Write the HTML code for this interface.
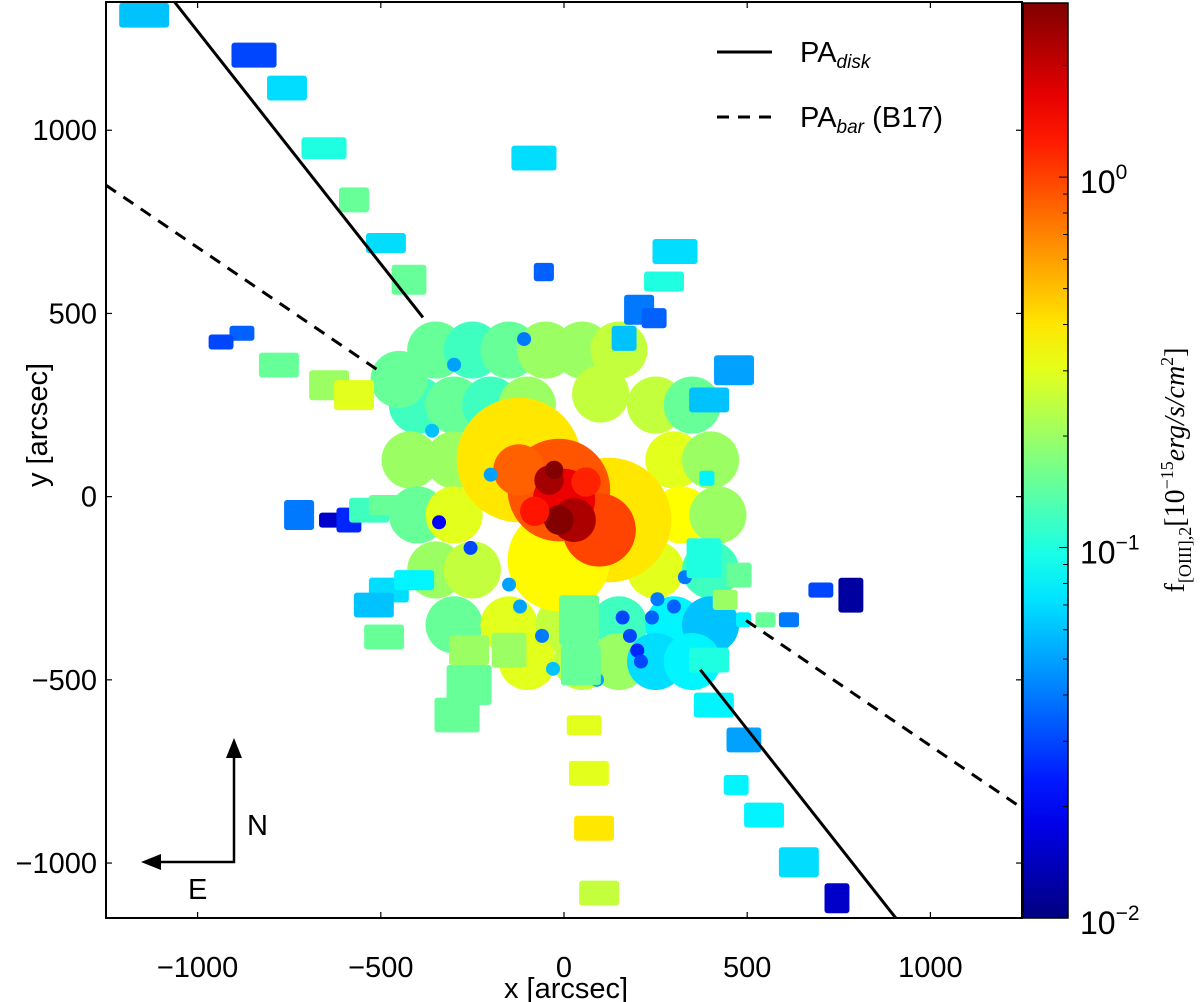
<!DOCTYPE html>
<html><head><meta charset="utf-8">
<style>
html,body{margin:0;padding:0;background:#fff;}
svg{display:block;font-family:"Liberation Sans",sans-serif;}
</style></head>
<body>
<svg id="chart" width="1200" height="1002" viewBox="0 0 1200 1002" xmlns="http://www.w3.org/2000/svg">
<defs>
<clipPath id="plotclip"><rect x="106" y="2" width="916" height="916"/></clipPath>
<linearGradient id="jetgrad" x1="0" y1="1" x2="0" y2="0"></linearGradient>
</defs>
<g id="marks" clip-path="url(#plotclip)"></g>
<g id="axes"></g>
</svg>
<script>
// ---- data ----
// outer cloud fill blobs
const fillX = [-350,-250,-150,-50,50,150,-400,-300,-200,250,350,-420,-300,300,400,-400,-300,320,420,-350,-250,250,400,-300,-150,0,150,300,400,-100,50,150,250,350,-450,-100,100];
const fillY = [400,400,400,400,400,400,250,250,250,250,250,100,100,100,100,-50,-50,-50,-50,-200,-200,-200,-200,-350,-350,-350,-350,-350,-350,-450,-450,-450,-450,-450,320,250,280];
const fillV = [0.15,0.12,0.15,0.2,0.2,0.25,0.12,0.15,0.12,0.25,0.15,0.2,0.2,0.3,0.2,0.15,0.3,0.35,0.2,0.2,0.25,0.3,0.12,0.15,0.3,0.25,0.12,0.08,0.06,0.3,0.25,0.2,0.07,0.08,0.15,0.2,0.25];
// core cloud blobs (arcsec, radius arcsec, flux)
const blobX = [-123,123,-14,-14,96,-123,0,27,-41,-14,-27,60,-80];
const blobY = [100,-64,-173,18,-91,73,-9,-64,45,-64,73,40,-40];
const blobR = [170,170,140,140,100,70,85,60,40,40,25,40,40];
const blobV = [0.4,0.4,0.36,0.9,1.0,0.85,1.6,2.3,2.4,2.9,2.9,1.2,1.3];
// small dots inside the cloud
const dotX = [-109,-300,-341,-255,25,160,200,255,300,-150,-30,90,-360,-200,210,330,-120,-60,180,240];
const dotY = [430,360,-70,-140,-350,-330,-420,-280,-300,-240,-470,-500,180,60,-450,-220,-300,-380,-380,-330];
const dotV = [0.04,0.05,0.02,0.03,0.03,0.03,0.025,0.04,0.035,0.05,0.06,0.05,0.06,0.05,0.03,0.04,0.05,0.04,0.03,0.035];
// rectangular fields (center x,y; width,height in arcsec; flux)
const boxX = [-1146,-846,-756,-655,-573,-486,-423,-82,-55,303,273,205,246,164,464,396,390,-879,-936,-778,-641,-573,-723,-641,-587,-532,-478,-478,-409,-519,-491,-292,-259,-259,-150,41,46,55,68,82,96,382,478,440,490,550,614,701,783,396,409,491,470,546,641,745];
const boxY = [1314,1205,1115,951,810,692,592,924,613,669,587,510,487,432,345,264,50,446,422,359,304,277,-50,-64,-64,-37,-23,-255,-228,-296,-383,-596,-514,-419,-419,-337,-460,-624,-755,-905,-1082,-168,-214,-282,-336,-336,-336,-255,-269,-446,-569,-664,-787,-869,-998,-1096];
const boxW = [136,123,109,123,82,109,95,123,55,123,109,82,68,68,109,109,41,68,68,109,109,109,82,55,68,109,109,109,109,109,109,123,123,109,95,109,109,95,109,109,109,95,68,68,41,55,55,68,68,109,109,95,68,109,109,68];
const boxH = [68,68,68,60,68,55,82,68,50,68,55,82,55,68,82,68,41,41,41,68,82,82,82,41,68,68,55,68,55,68,68,95,109,82,95,136,109,55,68,68,68,109,68,55,41,41,41,41,95,68,68,68,55,68,82,82];
const boxV = [0.06,0.03,0.07,0.1,0.15,0.07,0.15,0.07,0.035,0.07,0.1,0.04,0.035,0.06,0.05,0.06,0.08,0.035,0.03,0.15,0.2,0.3,0.04,0.015,0.025,0.12,0.15,0.07,0.08,0.06,0.15,0.15,0.15,0.2,0.2,0.15,0.15,0.3,0.3,0.4,0.25,0.1,0.15,0.2,0.08,0.15,0.04,0.03,0.012,0.1,0.08,0.05,0.08,0.08,0.07,0.015];
const xTicks = [-1000,-500,0,500,1000];
const yTicks = [1000,500,0,-500,-1000];
const cbDecades = [-2,-1,0];
const paDiskSlope = -1.27;
const paBarSlope = -0.68;

// ---- scales ----
const X0=106,X1=1022,Y0=918,Y1=2;
const xs = x => X0 + (x+1250)/2500*(X1-X0);
const ys = y => Y0 - (y+1150)/2500*(Y0-Y1);
const LMIN=-2, LMAX=0.47;
const cbY = l => 918 - (l-LMIN)/(LMAX-LMIN)*(918-3);
function jet(v){
  let t=(Math.log10(v)-LMIN)/(LMAX-LMIN); t=Math.max(0,Math.min(1,t));
  const c=a=>Math.round(255*Math.max(0,Math.min(1,a)));
  return `rgb(${c(1.5-Math.abs(4*t-3))},${c(1.5-Math.abs(4*t-2))},${c(1.5-Math.abs(4*t-1))})`;
}
const NS="http://www.w3.org/2000/svg";
function mk(tag,attrs,parent){const e=document.createElementNS(NS,tag);for(const k in attrs)e.setAttribute(k,attrs[k]);parent.appendChild(e);return e;}
const marks=document.getElementById('marks'), axes=document.getElementById('axes');
const kx=(X1-X0)/2500;

for(let i=0;i<fillX.length;i++){
  const e=mk('circle',{cx:xs(fillX[i]),cy:ys(fillY[i]),r:78*kx,fill:jet(fillV[i])},marks);
  
  
}
for(let i=0;i<blobX.length;i++){
  const e=mk('circle',{cx:xs(blobX[i]),cy:ys(blobY[i]),r:blobR[i]*kx,fill:jet(blobV[i])},marks);
  
  
}
for(let i=0;i<dotX.length;i++){
  const e=mk('circle',{cx:xs(dotX[i]),cy:ys(dotY[i]),r:7,fill:jet(dotV[i])},marks);
  
  
}
for(let i=0;i<boxX.length;i++){
  const w=boxW[i]*kx,h=boxH[i]*kx;
  const e=mk('rect',{x:xs(boxX[i])-w/2,y:ys(boxY[i])-h/2,width:w,height:h,rx:3,fill:jet(boxV[i])},marks);
  
  
}
function seg(x1,x2,slope,dash,name){
  const e=mk('line',{x1:xs(x1),y1:ys(slope*x1),x2:xs(x2),y2:ys(slope*x2),stroke:'#000','stroke-width':3},marks);
  if(dash)e.setAttribute('stroke-dasharray','12 9');
  
  
}
seg(-1063,-385,paDiskSlope,false,'pa-disk-line-north');
seg(372,906,paDiskSlope,false,'pa-disk-line-south');
seg(-1250,-500,paBarSlope,true,'pa-bar-line-east');
seg(497,1250,paBarSlope,true,'pa-bar-line-west');

let e=mk('rect',{x:X0,y:Y1,width:X1-X0,height:Y0-Y1,fill:'none',stroke:'#000','stroke-width':2},axes);

xTicks.forEach(t=>{
  mk('line',{x1:xs(t),y1:Y0,x2:xs(t),y2:Y0-6,stroke:'#000','stroke-width':1.2},axes);
  mk('line',{x1:xs(t),y1:Y1,x2:xs(t),y2:Y1+6,stroke:'#000','stroke-width':1.2},axes);
  const tx=mk('text',{x:xs(t),y:977,'text-anchor':'middle','font-size':29},axes);
  tx.textContent=(t<0?'\u2212':'')+Math.abs(t);
  
  
});
yTicks.forEach(t=>{
  mk('line',{x1:X0,y1:ys(t),x2:X0+6,y2:ys(t),stroke:'#000','stroke-width':1.2},axes);
  mk('line',{x1:X1,y1:ys(t),x2:X1-6,y2:ys(t),stroke:'#000','stroke-width':1.2},axes);
  const tx=mk('text',{x:97,y:ys(t)+10,'text-anchor':'end','font-size':29},axes);
  tx.textContent=(t<0?'\u2212':'')+Math.abs(t);
  
  
});
const g=document.getElementById('jetgrad');
for(let i=0;i<=20;i++){const v=Math.pow(10,LMIN+i/20*(LMAX-LMIN));mk('stop',{offset:(i/20),'stop-color':jet(v)},g);}
e=mk('rect',{x:1023,y:3,width:45,height:915,fill:'url(#jetgrad)',stroke:'#000','stroke-width':1.5},axes);

cbDecades.forEach(d=>{
  for(let m=1;m<10;m++){
    const l=d+Math.log10(m); if(l>LMAX)break;
    mk('line',{x1:1068,y1:cbY(l),x2:1068-(m===1?9:5),y2:cbY(l),stroke:'#000','stroke-width':1},axes);
  }
  const tx=mk('text',{x:1080,y:cbY(d)+16,'font-size':32},axes);
  
  
  tx.innerHTML='10<tspan dy="-14" font-size="21">'+(d<0?'\u2212':'')+Math.abs(d)+'</tspan>';
});
</script>
<svg width="1200" height="1002" style="position:absolute;left:0;top:0">
<g font-family="Liberation Sans, sans-serif">
<text x="566" y="998" text-anchor="middle" font-size="29">x [arcsec]</text>
<text transform="translate(47,425) rotate(-90)" text-anchor="middle" font-size="29">y [arcsec]</text>
<text transform="translate(1184,470) rotate(-90)" text-anchor="middle" font-size="28" font-family="Liberation Serif, serif">f<tspan font-size="18" dy="7">[OIII],2</tspan><tspan dy="-7">[10</tspan><tspan font-size="18" dy="-11">−15</tspan><tspan dy="11" font-style="italic">erg/s/cm</tspan><tspan font-size="18" dy="-11">2</tspan><tspan dy="11">]</tspan></text>
<g>
<line x1="717" y1="52" x2="772" y2="52" stroke="#000" stroke-width="3"/>
<text x="800" y="62" font-size="29">PA<tspan font-size="19" dy="6" font-style="italic">disk</tspan></text>
<line x1="717" y1="117" x2="772" y2="117" stroke="#000" stroke-width="3" stroke-dasharray="12 9"/>
<text x="800" y="127" font-size="29">PA<tspan font-size="19" dy="6" font-style="italic">bar</tspan><tspan dy="-6"> (B17)</tspan></text>
</g>
<g>
<polyline points="234,752 234,862 152,862" fill="none" stroke="#000" stroke-width="2.5"/>
<polygon points="234,738 226,758 242,758" fill="#000"/>
<polygon points="141,862 161,854 161,870" fill="#000"/>
<text x="247" y="835" font-size="29">N</text>
<text x="188" y="899" font-size="29">E</text>
</g>
</g>
</svg>
</body></html>
